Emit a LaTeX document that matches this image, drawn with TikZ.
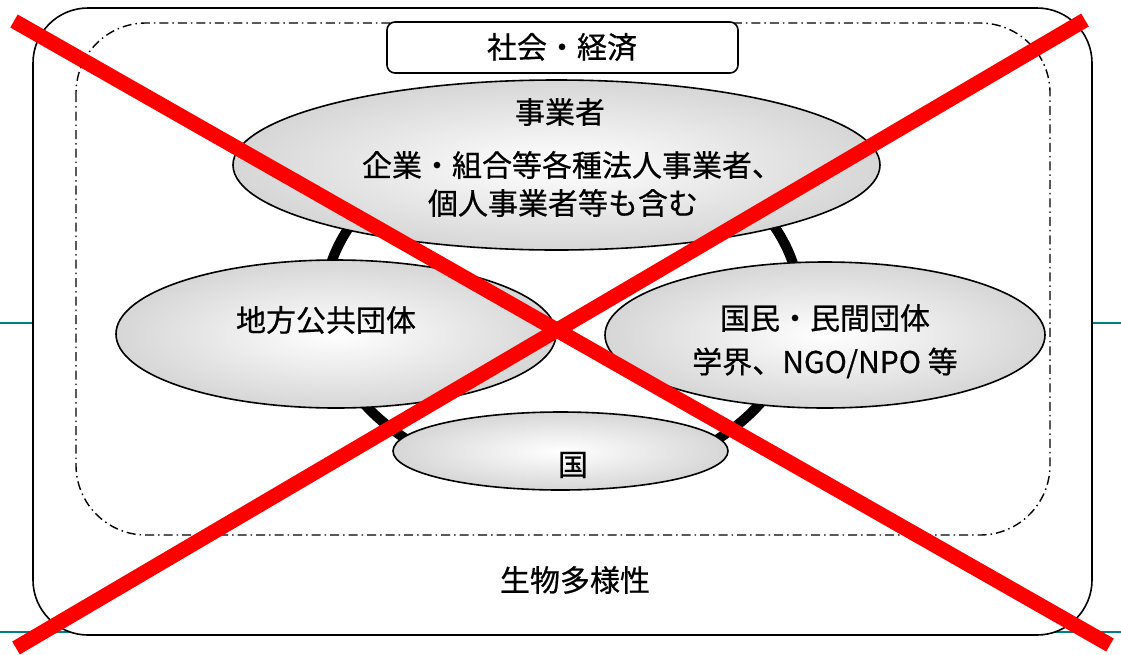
\documentclass[tikz,border=0pt]{standalone}
\usepackage{fontspec}
\setmainfont{Noto Sans CJK JP}
\newfontfamily\jp{Noto Sans CJK JP}[FakeBold=0.6]
\usetikzlibrary{shapes.geometric}
\definecolor{tealline}{RGB}{0,128,128}
\definecolor{xred}{RGB}{255,0,0}
\begin{document}
\begin{tikzpicture}[x=1pt,y=-1pt,
  blob/.style={ellipse, draw=black, line width=1.6pt, inner color=white, outer color=black!16, inner sep=0pt},
  lbl/.style={inner sep=0pt, font=\jp\fontsize{30}{34}\selectfont, align=center},
  redx/.style={xred, line width=15pt}]
\useasboundingbox (0,0) rectangle (1121,654);
% teal guide lines
\draw[tealline, line width=2pt] (0,323) -- (1121,323);
\draw[tealline, line width=2pt] (0,632) -- (1121,632);
% outer frame
\draw[line width=1.6pt, fill=white, rounded corners=55pt] (33,8) rectangle (1092,635);
% dash-dot frame
\draw[line width=1.4pt, dash pattern=on 9pt off 4pt on 1.5pt off 4pt, rounded corners=70pt] (76,23) rectangle (1050,535);
% society box
\node[draw, line width=1.6pt, fill=white, rounded corners=8pt, minimum width=351pt, minimum height=51pt, inner sep=0pt] (soc) at (562.5,47.5) {};
\node[lbl] (soct) at (562,47) {社会・経済};
% ring
\draw[line width=10pt] (562,306) ellipse [x radius=238, y radius=176];
% ellipses
\node[blob, minimum width=647pt, minimum height=170pt] (biz) at (556.5,165) {};
\node[blob, minimum width=440pt, minimum height=148pt] (loc) at (336,334) {};
\node[blob, minimum width=440pt, minimum height=146pt] (peo) at (825,335) {};
\node[blob, minimum width=335pt, minimum height=78pt] (nat) at (560.5,451) {};
% labels
\node[lbl] (bizt) at (560,112) {事業者};
\node[lbl] (bizd1) at (572,165) {企業・組合等各種法人事業者、};
\node[lbl] (bizd2) at (563,203) {個人事業者等も含む};
\node[lbl] (loct) at (326,320) {地方公共団体};
\node[lbl] (peot) at (825,318) {国民・民間団体};
\node[lbl] (peod) at (825,363) {学界、NGO/NPO 等};
\node[lbl] (natt) at (573,465) {国};
\node[lbl] (bio) at (575,580) {生物多様性};
% red cross
\coordinate (xa) at (14,21);
\coordinate (xb) at (1110,645);
\coordinate (xc) at (1085,20);
\coordinate (xd) at (16,648);
\draw[redx] (xa) -- (xb);
\draw[redx] (xc) -- (xd);
\end{tikzpicture}
\end{document}
